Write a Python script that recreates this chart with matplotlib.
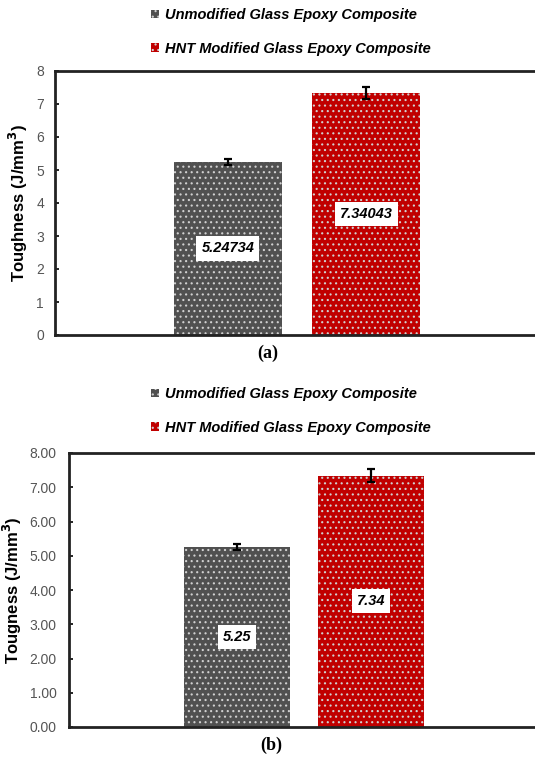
import matplotlib
matplotlib.use("Agg")
import matplotlib.pyplot as plt
from matplotlib.patches import Patch

# data
series = ["Unmodified Glass Epoxy Composite", "HNT Modified Glass Epoxy Composite"]
toughness = [5.24734, 7.34043]
errors = [0.09, 0.18]
labels_a = ["5.24734", "7.34043"]
labels_b = ["5.25", "7.34"]
colors = ["#505050", "#c00000"]

plt.rcParams["hatch.linewidth"] = 0.8
tick_font = ["Liberation Sans Narrow", "Liberation Sans", "DejaVu Sans"]

fig = plt.figure(figsize=(5.35, 7.6), dpi=100)


def panel(rect, ylab, ticklabels, vals_txt, leg_center, cap, cap_xy, pad):
    ax = fig.add_axes(rect)
    xs = [0, 1]
    for i in range(2):
        ax.bar(xs[i], toughness[i], width=0.786, color=colors[i],
               edgecolor="#d0d0d0", linewidth=0, hatch="...", zorder=2)
        ax.errorbar(xs[i], toughness[i], yerr=errors[i], fmt="none",
                    ecolor="black", elinewidth=1.6, capsize=3, capthick=1.6,
                    zorder=3)
        ax.text(xs[i], toughness[i] / 2, vals_txt[i], ha="center", va="center",
                fontsize=10.5, fontweight="bold", fontstyle="italic",
                family=tick_font, zorder=4,
                bbox=dict(boxstyle="square,pad=0.35", fc="white", ec="none"))
    ax.set_xlim(-1.25, 2.25)
    ax.set_ylim(0, 8)
    ax.set_xticks([])
    ax.set_yticks(range(9))
    ax.set_yticklabels(ticklabels, family=tick_font, fontsize=10, color="#555555")
    ax.tick_params(axis="y", direction="in", length=3, width=1.2, pad=pad)
    for s in ["left", "bottom", "top"]:
        ax.spines[s].set_linewidth(2)
        ax.spines[s].set_color("#222222")
    ax.spines["right"].set_visible(False)
    ax.set_ylabel(ylab, fontsize=12, fontweight="bold", family="Liberation Sans",
                  labelpad=4)

    handles = [Patch(facecolor=colors[i], edgecolor="#d0d0d0", linewidth=0,
                     hatch="...") for i in range(2)]
    fig.legend(handles, series, loc="center", bbox_to_anchor=leg_center,
               frameon=False, handlelength=0.55, handleheight=0.55,
               handletextpad=0.4, labelspacing=1.35,
               prop=dict(family="Liberation Sans", weight="bold",
                         style="italic", size=10.5))
    fig.text(cap_xy[0], cap_xy[1], cap, ha="center", va="center",
             fontsize=13, fontweight="bold", family="Liberation Serif")
    return ax


panel([55 / 535, 1 - 335 / 760, 484 / 535, 264 / 760],
      "Toughness (J/mm$^\\mathbf{3}$)", [str(v) for v in range(9)], labels_a,
      (291 / 535, 1 - 32 / 760), "(a)", (268 / 535, 1 - 353 / 760), 8)

panel([69 / 535, 1 - 727 / 760, 470 / 535, 274 / 760],
      "Tougness (J/mm$^\\mathbf{3}$)", ["%.2f" % v for v in range(9)], labels_b,
      (291 / 535, 1 - 411 / 760), "(b)", (271 / 535, 1 - 745 / 760), 9)

fig.savefig("out.png", dpi=100)
